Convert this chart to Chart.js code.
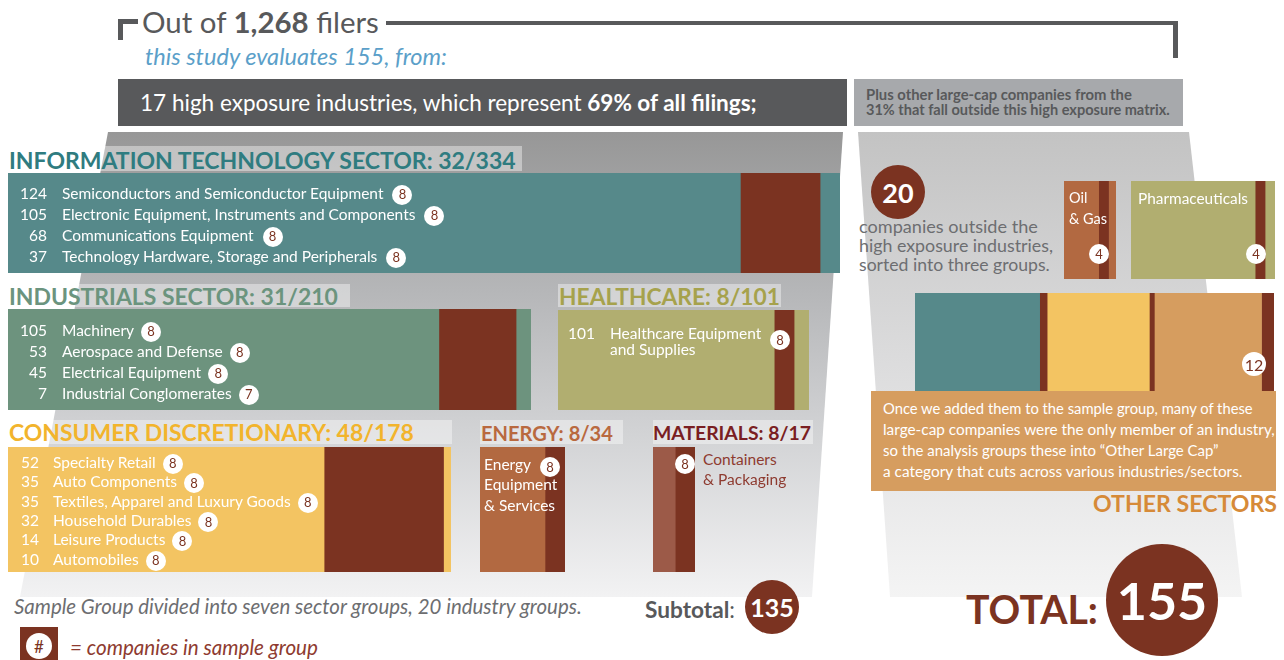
<!DOCTYPE html>
<html>
<head>
<meta charset="utf-8">
<title>Sample group</title>
<script src="https://cdn.jsdelivr.net/npm/chart.js@4.4.1/dist/chart.umd.min.js"></script>
<style>
    body { margin: 0; background: #fff; }
    #page { position: relative; width: 1284px; height: 660px; overflow: hidden; font-family: Lato, "Open Sans", sans-serif; }
    #page div { position: absolute; white-space: nowrap; }
    .badge { display: inline-flex; align-items: center; justify-content: center; border-radius: 50%; background: #fff; color: #7b3321; vertical-align: middle; }
    .disc { display: flex; align-items: center; justify-content: center; border-radius: 50%; background: #7b3321; color: #fff; }
</style>
</head>
<body>
<div id="page"></div>
<script>
// sector totals (filers) and companies in the sample group
const sectorTitles = ['INFORMATION TECHNOLOGY SECTOR', 'INDUSTRIALS SECTOR', 'HEALTHCARE', 'CONSUMER DISCRETIONARY', 'ENERGY', 'MATERIALS'];
const sectorFilers = [334, 210, 101, 178, 34, 17];
const sectorSample = [32, 31, 8, 48, 8, 8];
const sectorTail = [8, 6, 6, 3, 0, 0];

const itIndustries = ['Semiconductors and Semiconductor Equipment', 'Electronic Equipment, Instruments and Components', 'Communications Equipment', 'Technology Hardware, Storage and Peripherals'];
const itFilers = [124, 105, 68, 37];
const itSample = [8, 8, 8, 8];

const indIndustries = ['Machinery', 'Aerospace and Defense', 'Electrical Equipment', 'Industrial Conglomerates'];
const indFilers = [105, 53, 45, 7];
const indSample = [8, 8, 8, 7];

const hcIndustries = ['Healthcare Equipment', 'and Supplies'];
const hcFilers = [101];
const hcSample = [8];

const cdIndustries = ['Specialty Retail', 'Auto Components', 'Textiles, Apparel and Luxury Goods', 'Household Durables', 'Leisure Products', 'Automobiles'];
const cdFilers = [52, 35, 35, 32, 14, 10];
const cdSample = [8, 8, 8, 8, 8, 8];

const energyLines = ['Energy', 'Equipment', '& Services'];
const energySample = [8];
const materialsLines = ['Containers', '& Packaging'];
const materialsSample = [8];

// companies outside the high exposure industries
const otherGroups = ['Oil', '& Gas', 'Pharmaceuticals'];
const otherFilers = [21, 58];
const otherSample = [4, 4];
const otherTail = [3, 4];
const largeCapFilers = [53, 43, 48];
const largeCapSample = [3, 2, 5];
const largeCapCount = 12;
const outsideCount = 20;

const allFilers = '1,268';
const studyCount = 155;
const subtotal = 135;
const exposureShare = '69%';

const PX = 2.49; // pixels per filer, shared by every box
const BROWN = '#7b3321';
const BODY = 15.5;
const sectorColors = ['#56898a', '#6d937e', '#b1ae70', '#f3c462', '#b26941', '#9c5a48'];
const titleColors = ['#2f7c80', '#6b947e', '#a6a24c', '#f2b42c', '#b9693f', '#7a1e22'];
const largeCapColors = ['#56898a', '#f3c462', '#d69d5f'];

const page = document.getElementById('page');
const fits = [];

function box(x, y, w, h, css) {
    const e = document.createElement('div');
    Object.assign(e.style, { left: x + 'px', top: y + 'px', width: w + 'px', height: h + 'px' }, css || {});
    page.appendChild(e);
    return e;
}

// text placed by its left edge and vertical centre; fitW squeezes it to a measured width
function text(html, x, cy, size, color, css, fitW) {
    const e = document.createElement('div');
    Object.assign(e.style, { left: x + 'px', top: (cy - size * 0.6) + 'px', fontSize: size + 'px', lineHeight: (size * 1.2) + 'px', color: color }, css || {});
    e.innerHTML = html;
    page.appendChild(e);
    if (fitW) fits.push({ e, fitW, cy, size });
    return e;
}

function badge(n, size, gap) {
    return `<span class="badge" style="width:${size}px;height:${size}px;font-size:${Math.round(size * 0.65)}px;margin-left:${gap}px">${n}</span>`;
}

function disc(label, cx, cy, r, fontSize, weight) {
    const e = box(cx - r, cy - r, r * 2, r * 2, { fontSize: fontSize + 'px', fontWeight: weight || 400 });
    e.className = 'disc';
    e.textContent = label;
    return e;
}

function whiteBadge(label, cx, cy, size) {
    const e = box(cx - size / 2, cy - size / 2, size, size, { fontSize: Math.round(size * 0.65) + 'px', display: 'flex' });
    e.className = 'badge';
    e.textContent = label;
    return e;
}

// one stacked horizontal bar filling a box, width follows the filer count
function barBox(x, y, h, values, colors) {
    const total = values.reduce((a, b) => a + b, 0);
    const canvas = document.createElement('canvas');
    canvas.width = Math.round(total * PX);
    canvas.height = h;
    Object.assign(canvas.style, { position: 'absolute', left: x + 'px', top: y + 'px' });
    page.appendChild(canvas);
    new Chart(canvas, {
        type: 'bar',
        data: {
            labels: [''],
            datasets: values.map((v, i) => ({
                data: [v],
                backgroundColor: colors[i],
                borderWidth: 0,
                barPercentage: 1,
                categoryPercentage: 1
            }))
        },
        options: {
            indexAxis: 'y',
            responsive: false,
            animation: false,
            devicePixelRatio: 1,
            layout: { padding: 0 },
            plugins: { legend: { display: false }, tooltip: { enabled: false } },
            scales: {
                x: { stacked: true, display: false, min: 0, max: total },
                y: { stacked: true, display: false }
            }
        }
    });
}

// grey funnels behind the sector boxes
box(0, 132, 850, 465, {
    background: 'linear-gradient(to bottom, #979797 0%, #b6b7b9 35%, #d2d3d5 65%, #f2f2f3 100%)',
    clipPath: 'polygon(108px 0, 843px 0, 812px 465px, 20px 465px)'
});
box(850, 132, 400, 465, {
    background: 'linear-gradient(to bottom, #c3c3c3 0%, #dcdcdd 50%, #f4f4f4 100%)',
    clipPath: 'polygon(8px 0, 339px 0, 392px 465px, 40px 465px)'
});

// header
box(118, 19, 20, 5, { background: '#58595b' });
box(118, 19, 5, 21, { background: '#58595b' });
box(386, 21, 792, 4, { background: '#58595b' });
box(1173, 21, 5, 37, { background: '#58595b' });
text(`Out of <b>${allFilers}</b> filers`, 142, 22, 26, '#58595b', {}, 237);
text(`this study evaluates ${studyCount}, from:`, 145, 56, 19, '#5b9fc9', { fontStyle: 'italic' }, 302);
box(118, 79, 729, 47, { background: '#58595b' });
text(`17 high exposure industries, which represent <b>${exposureShare} of all filings;</b>`, 140, 103, 20, '#fff', {}, 617);
box(854, 79, 329, 47, { background: '#a7a9ac' });
text('Plus other large-cap companies from the', 866, 95, 12.5, '#58595b', { fontWeight: 700 }, 266);
text('31% that fall outside this high exposure matrix.', 866, 110, 12.5, '#58595b', { fontWeight: 700 }, 304);

// sector boxes: where each one sits
const sectorLayout = [
    { x: 8, y: 173, h: 100, tx: 9, ty: 161, tw: 507, bg: [8, 146, 514, 25] },
    { x: 8, y: 309, h: 101, tx: 9, ty: 297, tw: 329, bg: [8, 284, 342, 23] },
    { x: 558, y: 310, h: 100, tx: 559, ty: 297, tw: 221, bg: [558, 284, 223, 23] },
    { x: 8, y: 447, h: 125, tx: 9, ty: 433, tw: 405, bg: [8, 420, 444, 24] },
    { x: 480, y: 447, h: 125, tx: 481, ty: 433, tw: 132, bg: [480, 420, 143, 24] },
    { x: 653, y: 447, h: 125, tx: 653, ty: 433, tw: 158, bg: [653, 420, 160, 24] }
];

sectorTitles.forEach((t, i) => {
    const L = sectorLayout[i];
    box(L.bg[0], L.bg[1], L.bg[2], L.bg[3], { background: 'rgba(255,255,255,0.4)' });
    text(`${t}: ${sectorSample[i]}/${sectorFilers[i]}`, L.tx, L.ty, 22, titleColors[i], { fontWeight: 700 }, L.tw);
    const main = sectorFilers[i] - sectorSample[i] - sectorTail[i];
    barBox(L.x, L.y, L.h, [main, sectorSample[i], sectorTail[i]], [sectorColors[i], BROWN, sectorColors[i]]);
});

function industryRows(names, filers, sample, numRight, nameLeft, y0, dy, gap) {
    names.forEach((n, i) => {
        const cy = y0 + i * dy;
        text(String(filers[i]), numRight - 40, cy, BODY, '#fff', { width: '40px', textAlign: 'right' });
        text(n + badge(sample[i], 20, gap), nameLeft, cy, BODY, '#fff');
    });
}

industryRows(itIndustries, itFilers, itSample, 47, 62, 193, 21, 9);
industryRows(indIndustries, indFilers, indSample, 47, 62, 330, 21, 7);
industryRows(cdIndustries, cdFilers, cdSample, 39, 53, 462, 19.4, 7);

// healthcare
text(String(hcFilers[0]), 555, 333, BODY, '#fff', { width: '40px', textAlign: 'right' });
text(hcIndustries[0], 610, 333, BODY, '#fff');
text(hcIndustries[1], 610, 349, BODY, '#fff');
whiteBadge(hcSample[0], 780, 340, 20);

// energy
energyLines.forEach((l, i) => text(l, 484, 464 + i * 20.5, BODY, '#fff'));
whiteBadge(energySample[0], 550, 467, 20);

// materials
materialsLines.forEach((l, i) => text(l, 703, 459 + i * 20, BODY, '#8e3b30'));
whiteBadge(materialsSample[0], 685, 464, 20);

// other sectors
disc(String(outsideCount), 898, 192, 27, 27, 700);
['companies outside the', 'high exposure industries,', 'sorted into three groups.'].forEach((l, i) =>
    text(l, 859, 227 + i * 19, 16, '#6d6e71', {}, [179, 194, 191][i]));

const otherLayout = [{ x: 1064, y: 181, h: 98, color: '#b26941' }, { x: 1131, y: 181, h: 98, color: '#b1ae70' }];
otherFilers.forEach((f, i) => {
    const L = otherLayout[i];
    const main = f - otherSample[i] - otherTail[i];
    barBox(L.x, L.y, L.h, [main, otherSample[i], otherTail[i]], [L.color, BROWN, L.color]);
});
text(otherGroups[0], 1069, 198, 14.5, '#fff');
text(otherGroups[1], 1069, 219, 14.5, '#fff');
text(otherGroups[2], 1138, 198, 14.5, '#fff', {}, 110);
whiteBadge(otherSample[0], 1099, 254, 20);
whiteBadge(otherSample[1], 1256, 254, 20);

const lcValues = [], lcColors = [];
largeCapFilers.forEach((f, i) => {
    lcValues.push(f - largeCapSample[i], largeCapSample[i]);
    lcColors.push(largeCapColors[i], BROWN);
});
barBox(915, 293, 98, lcValues, lcColors);
whiteBadge(largeCapCount, 1254, 364, 24);

box(871, 391, 405, 100, { background: '#d69d5f' });
['Once we added them to the sample group, many of these',
 'large-cap companies were the only member of an industry,',
 'so the analysis groups these into \u201cOther Large Cap\u201d',
 'a category that cuts across various industries/sectors.'].forEach((l, i) =>
    text(l, 883, 409 + i * 20.7, 14, '#fff', {}, [370, 392, 336, 360][i]));
text('OTHER SECTORS', 1093, 504, 22, '#d68a38', { fontWeight: 700 }, 184);

// footer
text('Sample Group divided into seven sector groups, 20 industry groups.', 14, 606, 16, '#6d6e71', { fontStyle: 'italic' }, 568);
text('<b>Subtotal</b>:', 645, 610, 19, '#58595b', {}, 90);
disc(String(subtotal), 772, 607, 27, 25, 700);
box(20, 627, 38, 33, { background: BROWN });
whiteBadge('#', 39, 646, 26);
text('= companies in sample group', 70, 647, 16, '#8e3b30', { fontStyle: 'italic' }, 248);
text('TOTAL:', 966, 609, 38, BROWN, { fontWeight: 700 }, 132);
disc(String(studyCount), 1162, 600, 56, 52, 700);

function applyFits() {
    fits.forEach(f => {
        f.e.style.fontSize = f.size + 'px';
        const w = f.e.getBoundingClientRect().width;
        const s = f.size * f.fitW / w;
        f.e.style.fontSize = s + 'px';
        f.e.style.lineHeight = (s * 1.2) + 'px';
        f.e.style.top = (f.cy - s * 0.6) + 'px';
    });
}
applyFits();
document.fonts.ready.then(applyFits);
</script>
</body>
</html>
